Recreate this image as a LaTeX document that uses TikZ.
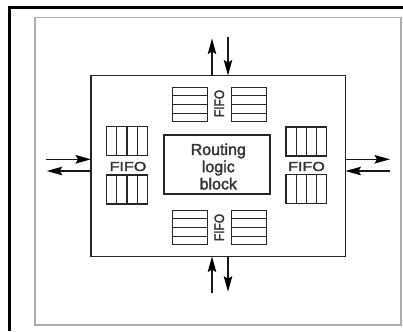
\documentclass[tikz,border=0pt]{standalone}
\usepackage{fontspec}
\setmainfont{Liberation Sans}
\newfontfamily\boldishfont[FakeBold=2]{Liberation Sans}
\usetikzlibrary{arrows.meta,calc}
\begin{document}
\begin{tikzpicture}[x=1pt,y=-1pt,
  ink/.style={draw=black!85},
  qbase/.style={ink, line width=1.3pt, rectangle, inner sep=0pt, outer sep=0pt},
  queueh/.style={qbase, minimum width=35pt, minimum height=34.5pt,
    path picture={\foreach \i in {1,2,3}{\draw[black!85,line width=1.2pt]
      ($(path picture bounding box.north west)!\i*0.25!(path picture bounding box.south west)$) --
      ($(path picture bounding box.north east)!\i*0.25!(path picture bounding box.south east)$);}}},
  queuev/.style={qbase, minimum width=40.6pt, minimum height=29pt,
    path picture={\foreach \i in {1,2,3}{\draw[black!85,line width=1.2pt]
      ($(path picture bounding box.north west)!\i*0.25!(path picture bounding box.north east)$) --
      ($(path picture bounding box.south west)!\i*0.25!(path picture bounding box.south east)$);}}},
  fifoh/.style={inner sep=0pt, text=black!80, font=\boldishfont\fontsize{13}{14}\selectfont},
  blockbox/.style={ink, line width=1.6pt, rectangle, inner sep=0pt, outer sep=0pt},
  arr/.style={draw=black!90, line width=1.4pt, -{Stealth[length=15.5pt,width=8.5pt,inset=2.5pt,black]}}
]
\useasboundingbox (0,0) rectangle (403,331);
% frames
\draw[black, line width=3pt, line join=miter] (9.5,331) -- (9.5,7.5) -- (403,7.5);
\draw[black!32, line width=1.8pt] (35,17.5) rectangle (401,324.8);

% main block
\node[blockbox, minimum width=254.5pt, minimum height=181pt] (blk) at (218.25,166) {};
\node[blockbox, line width=1.4pt, minimum width=106pt, minimum height=59pt] (rlb) at (217,164.5) {};
\node[inner sep=0pt, align=center, text=black!80, font=\boldishfont\fontsize{16}{17.2}\selectfont] (rlt) at (218.3,166.5) {Routing\\logic\\block};

% queues
\node[queueh] (tq1) at (190,104.5) {};
\node[queueh] (tq2) at (249.2,104.5) {};
\node[queueh] (bq1) at (190,227.5) {};
\node[queueh] (bq2) at (249.2,227.5) {};
\node[queuev] (lq1) at (127,141.3) {};
\node[queuev] (lq2) at (127,189.5) {};
\node[queuev] (rq1) at (306.3,141.6) {};
\node[queuev] (rq2) at (306.3,189.2) {};

% FIFO labels
\node[fifoh, rotate=90] (tf) at (219.3,103.5) {\scalebox{0.92}[1.05]{FIFO}};
\node[fifoh, rotate=90] (bf) at (219.3,227.5) {\scalebox{0.92}[1.05]{FIFO}};
\node[fifoh] (lf) at (128,166.5) {\scalebox{1.24}[1]{FIFO}};
\node[fifoh] (rf) at (306.5,166.5) {\scalebox{1.24}[1]{FIFO}};

% arrow end points
\coordinate (tout) at (212,38.5);
\coordinate (tin) at (228,37.5);
\coordinate (bin) at (212,293);
\coordinate (bout) at (228,291.7);
\coordinate (lin) at (46,159.3);
\coordinate (lout) at (46.7,171);
\coordinate (rout) at (390,159.3);
\coordinate (rin) at (390,171);

\draw[arr] (tout |- blk.north) -- (tout);
\draw[arr] (tin) -- (tin |- blk.north);
\draw[arr] (bin) -- (bin |- blk.south);
\draw[arr] (bout |- blk.south) -- (bout);
\draw[arr] (lin) -- (lin -| blk.west);
\draw[arr] (lout -| blk.west) -- (lout);
\draw[arr] (rout -| blk.east) -- (rout);
\draw[arr] (rin) -- (rin -| blk.east);
\end{tikzpicture}
\end{document}
